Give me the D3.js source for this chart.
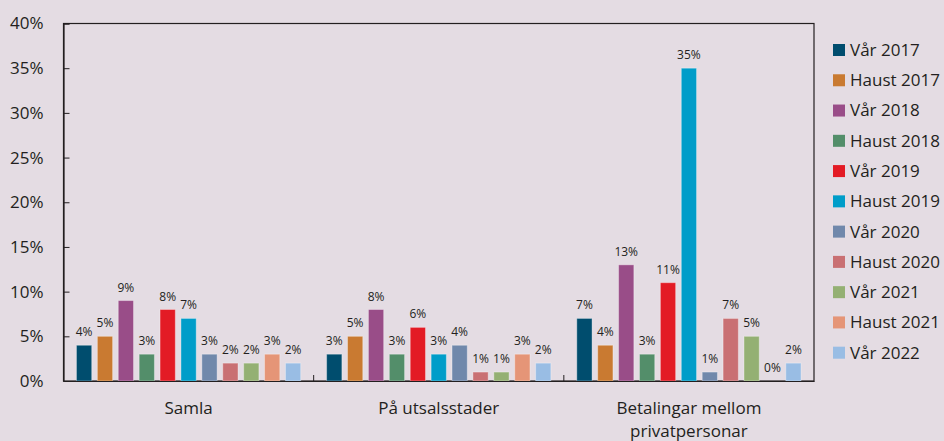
<!DOCTYPE html>
<html>
<head>
<meta charset="utf-8">
<script src="https://cdn.jsdelivr.net/npm/d3@7"></script>
<style>
  html, body { margin: 0; padding: 0; background: #e4dce3; }
  svg { display: block; }
  text { font-family: "Open Sans", sans-serif; fill: #231f20; }
</style>
</head>
<body>
<svg id="chart" width="944" height="441"></svg>
<script>
const categories = ["Samla", "På utsalsstader", "Betalingar mellom privatpersonar"];
const categoryLines = [["Samla"], ["På utsalsstader"], ["Betalingar mellom", "privatpersonar"]];
const seriesNames = ["Vår 2017", "Haust 2017", "Vår 2018", "Haust 2018", "Vår 2019", "Haust 2019",
                     "Vår 2020", "Haust 2020", "Vår 2021", "Haust 2021", "Vår 2022"];
const seriesColors = ["#004d6e", "#c97a31", "#994d88", "#538e6a", "#e31b25", "#009dc9",
                      "#7088ab", "#c97073", "#94b073", "#e59577", "#99bde4"];
const samla = [4, 5, 9, 3, 8, 7, 3, 2, 2, 3, 2];
const utsalsstader = [3, 5, 8, 3, 6, 3, 4, 1, 1, 3, 2];
const privatpersonar = [7, 4, 13, 3, 11, 35, 1, 7, 5, 0, 2];
const yTicks = [0, 5, 10, 15, 20, 25, 30, 35, 40];

const values = [samla, utsalsstader, privatpersonar];
const data = categories.map((c, i) => ({
  cat: c, lines: categoryLines[i],
  vals: seriesNames.map((s, j) => ({ s, v: values[i][j], c: seriesColors[j] }))
}));

const svg = d3.select("#chart");
const pLeft = 63.5, pRight = 814, pTop = 23.5, pBottom = 381;

const x0 = d3.scaleBand().domain(categories).range([pLeft, pRight]).padding(0);
const x1 = d3.scaleBand().domain(seriesNames).range([0, x0.bandwidth()])
  .paddingInner(0.27).paddingOuter(0.62);
const y = d3.scaleLinear().domain([0, 40]).range([pBottom, pTop]);

// frame
svg.append("rect").attr("x", pLeft).attr("y", pTop)
  .attr("width", pRight - pLeft).attr("height", pBottom - pTop)
  .attr("fill", "none").attr("stroke", "#231f20").attr("stroke-width", 1.2);

// bars
const g = svg.append("g").selectAll("g").data(data).join("g")
  .attr("transform", d => `translate(${x0(d.cat)},0)`);
g.selectAll("rect").data(d => d.vals).join("rect")
  .attr("x", d => x1(d.s))
  .attr("y", d => y(d.v))
  .attr("width", x1.bandwidth())
  .attr("height", d => y(0) - y(d.v))
  .attr("fill", d => d.c)
  .attr("stroke", "rgba(255,255,255,0.35)")
  .attr("stroke-width", 1);
g.selectAll("text").data(d => d.vals).join("text")
  .attr("x", d => x1(d.s) + x1.bandwidth() / 2)
  .attr("y", d => y(d.v) - 9)
  .attr("text-anchor", "middle")
  .attr("font-size", 12)
  .text(d => d.v + "%");

// y axis
const yAxis = d3.axisLeft(y).tickValues(yTicks).tickFormat(d => d + "%").tickSize(-6).tickPadding(20);
const ya = svg.append("g").attr("transform", `translate(${pLeft},0)`).call(yAxis);
ya.select(".domain").attr("stroke", "#231f20").attr("stroke-width", 1.2);
ya.selectAll(".tick line").attr("stroke", "#231f20");
ya.selectAll(".tick text").attr("font-size", 17).attr("font-family", "Open Sans").attr("fill", "#231f20");

// x category ticks
const xa = svg.append("g").attr("transform", `translate(0,${pBottom})`)
  .call(d3.axisBottom(x0).tickValues([]).tickSizeOuter(0));
xa.select(".domain").attr("stroke", "#231f20").attr("stroke-width", 1.2);
xa.selectAll(".sep").data(categories.slice(1)).join("line")
  .attr("x1", d => x0(d)).attr("x2", d => x0(d))
  .attr("y1", 0).attr("y2", -6).attr("stroke", "#231f20");

// category labels
data.forEach(d => {
  const t = svg.append("text")
    .attr("x", x0(d.cat) + x0.bandwidth() / 2)
    .attr("y", 414)
    .attr("text-anchor", "middle")
    .attr("font-size", 17);
  d.lines.forEach((l, i) => {
    t.append("tspan").attr("x", x0(d.cat) + x0.bandwidth() / 2)
      .attr("dy", i === 0 ? 0 : 23).text(l);
  });
});

// legend
const lg = svg.append("g").selectAll("g").data(seriesNames).join("g")
  .attr("transform", (d, i) => `translate(833,${50 + i * 30.27})`);
lg.append("rect").attr("x", 0).attr("y", -6).attr("width", 12).attr("height", 12)
  .attr("fill", (d, i) => seriesColors[i]);
lg.append("text").attr("x", 17).attr("y", 0).attr("dy", "0.35em")
  .attr("font-size", 17).text(d => d);
</script>
</body>
</html>
